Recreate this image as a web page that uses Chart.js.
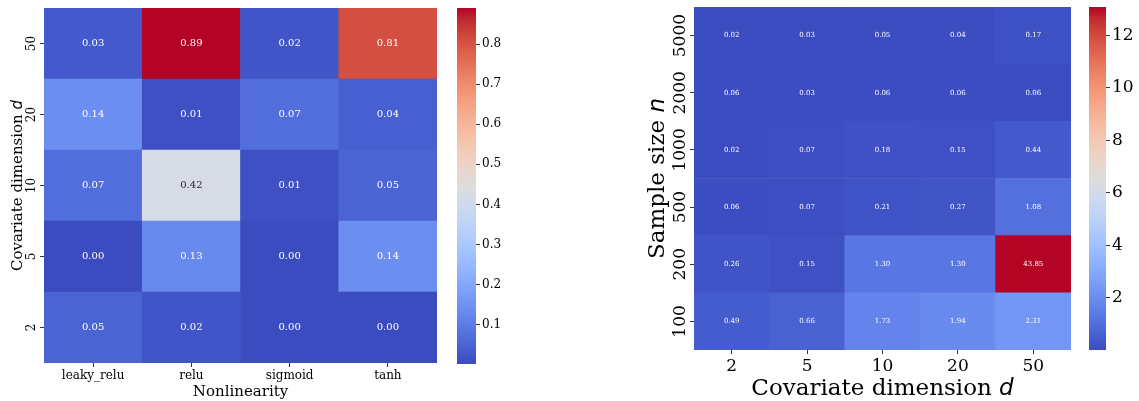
<!DOCTYPE html>
<html>
<head>
<meta charset="utf-8">
<script src="https://cdn.jsdelivr.net/npm/chart.js@4.4.1/dist/chart.umd.min.js"></script>
<style>
  html, body { margin: 0; padding: 0; background: #fff; }
  body { width: 1139px; height: 401px; position: relative; overflow: hidden; }
  .box { position: absolute; top: 0; height: 401px; }
</style>
</head>
<body>
<div class="box" style="left:0;width:445px"><canvas id="heatLeft"></canvas></div>
<div class="box" style="left:457px;width:70px"><canvas id="barLeft"></canvas></div>
<div class="box" style="left:600px;width:480px"><canvas id="heatRight"></canvas></div>
<div class="box" style="left:1089px;width:50px"><canvas id="barRight"></canvas></div>
<script>
// ---- data ----
const nonlinearities = ["leaky_relu", "relu", "sigmoid", "tanh"];
const dimsLeft = ["50", "20", "10", "5", "2"];          // rows, top to bottom
const errLeft = [
  [0.03, 0.89, 0.02, 0.81],
  [0.14, 0.01, 0.07, 0.04],
  [0.07, 0.42, 0.01, 0.05],
  [0.00, 0.13, 0.00, 0.14],
  [0.05, 0.02, 0.00, 0.00]
];
const rangeLeft = [0.002, 0.89];
const barTicksLeft = [0.1, 0.2, 0.3, 0.4, 0.5, 0.6, 0.7, 0.8];

const dimsRight = ["2", "5", "10", "20", "50"];
const sampleSizes = ["5000", "2000", "1000", "500", "200", "100"]; // rows, top to bottom
const errRight = [
  [0.02, 0.03, 0.05, 0.04, 0.17],
  [0.06, 0.03, 0.06, 0.06, 0.06],
  [0.02, 0.07, 0.18, 0.15, 0.44],
  [0.06, 0.07, 0.21, 0.27, 1.08],
  [0.26, 0.15, 1.30, 1.30, 43.85],
  [0.49, 0.66, 1.73, 1.94, 2.31]
];
const rangeRight = [0.02, 13.07];
const barTicksRight = [2, 4, 6, 8, 10, 12];

const SERIF = '"DejaVu Serif", serif';

// matplotlib coolwarm, 33 samples
const CW = [
  [59,76,192],[68,90,204],[77,104,215],[87,117,225],[98,130,234],[108,142,241],
  [119,154,247],[130,165,251],[141,176,254],[152,185,255],[163,194,255],[174,201,253],
  [184,208,249],[194,213,244],[204,217,238],[213,219,230],[221,221,221],[229,216,209],
  [236,211,197],[241,204,185],[245,196,173],[247,187,160],[247,177,148],[247,166,135],
  [244,154,123],[241,141,111],[236,127,99],[229,112,88],[222,96,77],[213,80,66],
  [203,62,56],[192,40,47],[180,4,38]
];

function coolwarm(t){
  t = Math.min(1, Math.max(0, t));
  const p = t * (CW.length - 1), i = Math.min(CW.length - 2, Math.floor(p)), f = p - i;
  return CW[i].map((c, k) => Math.round(c + (CW[i+1][k] - c) * f));
}

function luminance(rgb){
  const c = rgb.map(v => { v /= 255; return v <= 0.03928 ? v / 12.92 : Math.pow((v + 0.055) / 1.055, 2.4); });
  return 0.2126 * c[0] + 0.7152 * c[1] + 0.0722 * c[2];
}

// write the value in each cell
const cellText = {
  id: "cellText",
  afterDatasetsDraw(chart, args, opts){
    const ctx = chart.ctx;
    ctx.save();
    ctx.font = opts.font;
    ctx.textAlign = "center";
    ctx.textBaseline = "middle";
    chart.data.datasets.forEach((ds, i) => {
      chart.getDatasetMeta(i).data.forEach((bar, j) => {
        ctx.fillStyle = ds.textColor[j];
        ctx.fillText(ds.vals[j].toFixed(2), bar.x, (bar.y + bar.base) / 2);
      });
    });
    ctx.restore();
  }
};

function drawParts(ctx, parts, x, y, rot){
  ctx.save();
  ctx.translate(x, y);
  ctx.rotate(rot);
  let w = 0;
  parts.forEach(p => { ctx.font = p[1]; w += ctx.measureText(p[0]).width; });
  let cx = -w / 2;
  ctx.textAlign = "left";
  ctx.textBaseline = "alphabetic";
  parts.forEach(p => { ctx.font = p[1]; ctx.fillText(p[0], cx, 0); cx += ctx.measureText(p[0]).width; });
  ctx.restore();
}

// rotated row labels + axis titles
const axisText = {
  id: "axisText",
  afterDraw(chart, args, o){
    const ctx = chart.ctx, ys = chart.scales.y, a = chart.chartArea;
    const n = o.rows.length;
    ctx.save();
    ctx.fillStyle = "#000";
    ys.ticks.forEach(t => {
      const label = o.rows[Math.round(n - 0.5 - t.value)];
      drawParts(ctx, [[label, o.tickFont]], o.tickX, ys.getPixelForValue(t.value), -Math.PI / 2);
    });
    drawParts(ctx, o.xTitle, (a.left + a.right) / 2, o.xTitleY, 0);
    drawParts(ctx, o.yTitle, o.yTitleX, (a.top + a.bottom) / 2, -Math.PI / 2);
    ctx.restore();
  }
};

const gradientBar = {
  id: "gradientBar",
  beforeDatasetsDraw(chart){
    const { ctx, chartArea: a } = chart;
    const g = ctx.createLinearGradient(0, a.bottom, 0, a.top);
    CW.forEach((c, i) => g.addColorStop(i / (CW.length - 1), `rgb(${c})`));
    ctx.save();
    ctx.fillStyle = g;
    ctx.fillRect(a.left, a.top, a.right - a.left, a.bottom - a.top);
    ctx.restore();
  }
};

function heatmap(id, cols, rows, vals, range, o){
  const n = rows.length;
  const datasets = [];
  for (let r = n - 1; r >= 0; r--) {
    const colors = vals[r].map(v => coolwarm((v - range[0]) / (range[1] - range[0])));
    datasets.push({
      label: rows[r],
      data: cols.map(() => 1),
      vals: vals[r],
      backgroundColor: colors.map(c => `rgb(${c})`),
      textColor: colors.map(c => luminance(c) > 0.408 ? "#262626" : "#ffffff"),
      borderWidth: 0,
      barPercentage: 1,
      categoryPercentage: 1
    });
  }
  new Chart(document.getElementById(id), {
    type: "bar",
    data: { labels: cols, datasets },
    options: {
      responsive: true,
      maintainAspectRatio: false,
      animation: false,
      layout: { padding: o.pad },
      plugins: {
        legend: { display: false },
        tooltip: { enabled: false },
        cellText: { font: `${o.cellSize}px ${SERIF}` },
        axisText: {
          rows,
          tickFont: `${o.tickSize}px ${SERIF}`,
          tickX: o.rowTickX,
          xTitle: o.xTitle, xTitleY: o.xTitleY,
          yTitle: o.yTitle, yTitleX: o.yTitleX
        }
      },
      scales: {
        x: {
          stacked: true,
          grid: { offset: false, drawOnChartArea: false, tickLength: 4, color: "#333" },
          border: { display: false },
          ticks: { font: { family: SERIF, size: o.tickSize }, color: "#000", padding: 2, maxRotation: 0 },
          afterFit: s => { s.height = o.xH; s.paddingLeft = 0; s.paddingRight = 0; }
        },
        y: {
          stacked: true,
          min: 0,
          max: n,
          grid: { drawOnChartArea: false, tickLength: 4, color: "#333" },
          border: { display: false },
          ticks: { display: false },
          afterBuildTicks: s => { s.ticks = rows.map((_, r) => ({ value: n - r - 0.5 })); },
          afterFit: s => { s.width = o.yW; }
        }
      }
    },
    plugins: [cellText, axisText]
  });
}

function colorbar(id, range, ticks, o){
  new Chart(document.getElementById(id), {
    type: "bar",
    data: { labels: [""], datasets: [] },
    options: {
      responsive: true,
      maintainAspectRatio: false,
      animation: false,
      layout: { padding: o.pad },
      plugins: { legend: { display: false }, tooltip: { enabled: false } },
      scales: {
        x: { display: false },
        y: {
          position: "right",
          min: range[0],
          max: range[1],
          afterBuildTicks: s => { s.ticks = ticks.map(v => ({ value: v })); },
          ticks: { font: { family: SERIF, size: o.size }, color: "#000", padding: 2, callback: o.fmt },
          grid: { drawOnChartArea: false, tickLength: 4, color: "#333" },
          border: { display: false },
          afterFit: s => { s.width = o.w; s.paddingTop = 0; s.paddingBottom = 0; }
        }
      }
    },
    plugins: [gradientBar]
  });
}

heatmap("heatLeft", nonlinearities, dimsLeft, errLeft, rangeLeft, {
  pad: { left: 0, top: 8, right: 8, bottom: 0 },
  xH: 38, yW: 44,
  cellSize: 10, tickSize: 12,
  rowTickX: 35,
  xTitle: [["Nonlinearity", `15px ${SERIF}`]], xTitleY: 396,
  yTitle: [["Covariate dimension ", `15px ${SERIF}`], ["d", `italic 15px "DejaVu Sans", sans-serif`]], yTitleX: 22
});

colorbar("barLeft", rangeLeft, barTicksLeft, {
  pad: { left: 0, top: 8, right: 0, bottom: 37 },
  w: 51, size: 12, fmt: v => v.toFixed(1)
});

heatmap("heatRight", dimsRight, sampleSizes, errRight, rangeRight, {
  pad: { left: 0, top: 7, right: 9, bottom: 0 },
  xH: 51, yW: 94,
  cellSize: 7, tickSize: 17,
  rowTickX: 85,
  xTitle: [["Covariate dimension ", `23px ${SERIF}`], ["d", `italic 23px "DejaVu Sans", sans-serif`]], xTitleY: 395,
  yTitle: [["Sample size ", `23px ${SERIF}`], ["n", `italic 23px "DejaVu Sans", sans-serif`]], yTitleX: 64
});

colorbar("barRight", rangeRight, barTicksRight, {
  pad: { left: 0, top: 7, right: 0, bottom: 51 },
  w: 33, size: 17, fmt: v => String(v)
});
</script>
</body>
</html>
